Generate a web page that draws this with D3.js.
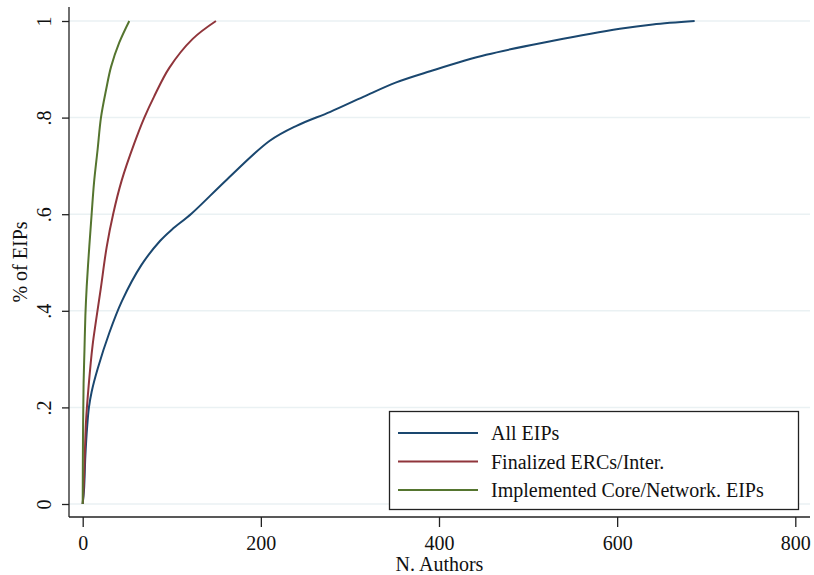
<!DOCTYPE html>
<html>
<head>
<meta charset="utf-8">
<script src="https://cdn.jsdelivr.net/npm/d3@7"></script>
<style>
  body { margin: 0; background: #fff; }
  svg { display: block; }
</style>
</head>
<body>
<svg id="chart" width="814" height="575"></svg>
<script>
// cumulative share of EIPs by number of authors
const allEips = [[0, 0], [1.5, 0.03], [3, 0.1], [5, 0.16], [7, 0.2], [10, 0.232], [16.8, 0.28],
  [30, 0.355], [44, 0.42], [66, 0.495], [87, 0.545], [100, 0.568], [122, 0.601], [162, 0.672],
  [210, 0.752], [240, 0.783], [278, 0.812], [315, 0.843], [352, 0.873], [390, 0.896], [453, 0.93],
  [528, 0.959], [603, 0.984], [640, 0.993], [687, 1]];
const finalizedErcs = [[0, 0], [1, 0.03], [2, 0.08], [3.7, 0.17], [6.7, 0.245], [11.2, 0.33],
  [15, 0.38], [20.2, 0.445], [27, 0.533], [34.4, 0.602], [43.8, 0.67], [58, 0.747],
  [69.2, 0.8], [80, 0.843], [97.2, 0.903], [123.5, 0.963], [149.6, 1]];
const coreEips = [[0, 0], [0.3, 0.13], [1, 0.25], [2, 0.32], [3, 0.39], [4.5, 0.45],
  [7.4, 0.533], [10.1, 0.602], [12.7, 0.665], [16.8, 0.735], [20.5, 0.8],
  [26.2, 0.857], [31.8, 0.905], [41, 0.955], [52.3, 1]];

const seriesNames = ['All EIPs', 'Finalized ERCs/Inter.', 'Implemented Core/Network. EIPs'];
const seriesColors = ['#1a476f', '#90353b', '#55752f'];
const xTicks = [0, 200, 400, 600, 800];
const yTicks = [0, 0.2, 0.4, 0.6, 0.8, 1];
const yTickLabels = ['0', '.2', '.4', '.6', '.8', '1'];

const FONT = "'Liberation Serif', 'Times New Roman', serif";
const svg = d3.select('#chart');

const x = d3.scaleLinear().domain([0, 800]).range([82.7, 795.3]);
const y = d3.scaleLinear().domain([0, 1]).range([504, 21]);
const plot = { left: 69, right: 810, top: 7, bottom: 517 };

// gridlines
svg.append('g').selectAll('line')
  .data(yTicks)
  .join('line')
  .attr('x1', plot.left).attr('x2', plot.right)
  .attr('y1', d => y(d)).attr('y2', d => y(d))
  .attr('stroke', '#eaf1f3').attr('stroke-width', 1.5);

// axes
const xAxis = svg.append('g')
  .attr('transform', `translate(0,${plot.bottom})`)
  .call(d3.axisBottom(x).tickValues(xTicks).tickSize(10).tickPadding(9).tickFormat(d3.format('d')));
xAxis.select('.domain').attr('d', `M${plot.left},0H${plot.right}`);

const yAxis = svg.append('g')
  .attr('transform', `translate(${plot.left},0)`)
  .call(d3.axisLeft(y).tickValues(yTicks).tickSize(7).tickFormat((d, i) => yTickLabels[i]));
yAxis.select('.domain').attr('d', `M0,${plot.top}V${plot.bottom}`);
yAxis.selectAll('.tick text')
  .attr('x', null).attr('dy', null)
  .attr('transform', 'translate(-18,0) rotate(-90)')
  .attr('text-anchor', 'middle');

svg.selectAll('.domain, .tick line').attr('stroke', '#222').attr('stroke-width', 1.3);
svg.selectAll('.tick text').attr('font-family', FONT).attr('font-size', 20).attr('fill', '#111');

// axis titles
svg.append('text')
  .attr('x', (plot.left + plot.right) / 2).attr('y', 571)
  .attr('text-anchor', 'middle')
  .attr('font-family', FONT).attr('font-size', 20).attr('fill', '#111')
  .text('N. Authors');

svg.append('text')
  .attr('transform', `translate(27,${(plot.top + plot.bottom) / 2}) rotate(-90)`)
  .attr('text-anchor', 'middle')
  .attr('font-family', FONT).attr('font-size', 20).attr('fill', '#111')
  .text('% of EIPs');

// curves
const line = d3.line().x(d => x(d[0])).y(d => y(d[1])).curve(d3.curveCatmullRom.alpha(0.5));
[allEips, finalizedErcs, coreEips].forEach((data, i) => {
  svg.append('path')
    .datum(data)
    .attr('d', line)
    .attr('fill', 'none')
    .attr('stroke', seriesColors[i])
    .attr('stroke-width', 2);
});

// legend
const legend = svg.append('g');
legend.append('rect')
  .attr('x', 389.5).attr('y', 411.5).attr('width', 409).attr('height', 98)
  .attr('fill', '#fff').attr('stroke', '#222').attr('stroke-width', 1.3);
seriesNames.forEach((name, i) => {
  const ly = 433 + i * 28.5;
  legend.append('line')
    .attr('x1', 398).attr('x2', 478).attr('y1', ly).attr('y2', ly)
    .attr('stroke', seriesColors[i]).attr('stroke-width', 2);
  legend.append('text')
    .attr('x', 491).attr('y', ly + 7)
    .attr('font-family', FONT).attr('font-size', 20).attr('fill', '#111')
    .text(name);
});
</script>
</body>
</html>
